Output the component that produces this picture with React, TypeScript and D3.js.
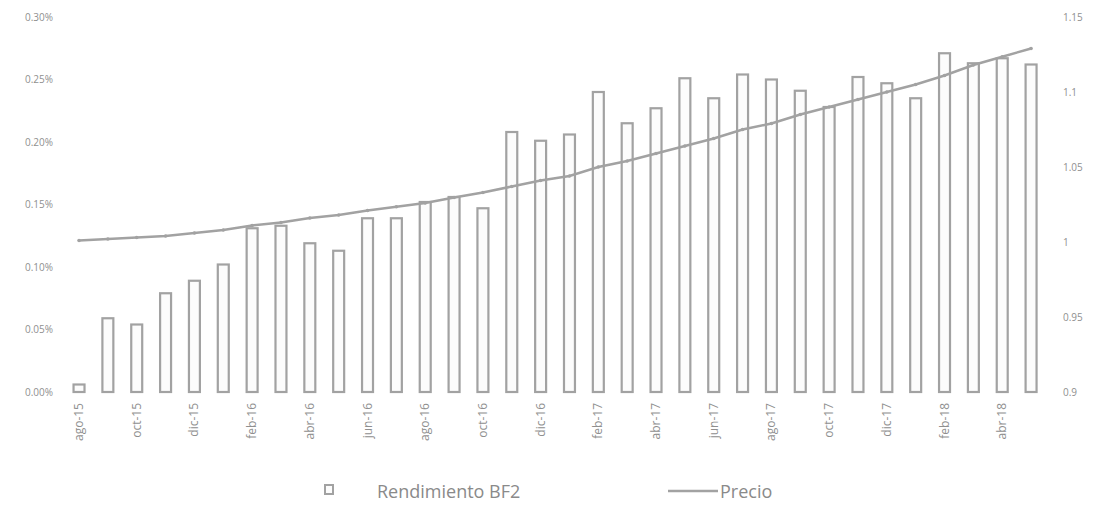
import React from "react";
import * as d3 from "d3";

const months: string[] = [
  "ago-15","sep-15","oct-15","nov-15","dic-15",
  "ene-16","feb-16","mar-16","abr-16","may-16","jun-16","jul-16","ago-16","sep-16","oct-16","nov-16","dic-16",
  "ene-17","feb-17","mar-17","abr-17","may-17","jun-17","jul-17","ago-17","sep-17","oct-17","nov-17","dic-17",
  "ene-18","feb-18","mar-18","abr-18","may-18",
];

// Rendimiento BF2 (percent)
const rendimiento: number[] = [
  0.006, 0.059, 0.054, 0.079, 0.089, 0.102, 0.131, 0.133, 0.119, 0.113, 0.139, 0.139,
  0.152, 0.156, 0.147, 0.208, 0.201, 0.206, 0.240, 0.215, 0.227, 0.251, 0.235,
  0.254, 0.250, 0.241, 0.228, 0.252, 0.247, 0.235, 0.271, 0.263, 0.267, 0.262,
];

// Precio
const precio: number[] = [
  1.001, 1.002, 1.003, 1.004, 1.006, 1.008, 1.011, 1.013, 1.016, 1.018, 1.021, 1.0235,
  1.026, 1.0297, 1.033, 1.037, 1.041, 1.044, 1.050, 1.054, 1.059, 1.064, 1.069,
  1.075, 1.079, 1.085, 1.090, 1.095, 1.100, 1.105, 1.111, 1.118, 1.1235, 1.129,
];

const leftTicks: number[] = [0, 0.05, 0.1, 0.15, 0.2, 0.25, 0.3];
const rightTicks: number[] = [0.9, 0.95, 1, 1.05, 1.1, 1.15];
const seriesNames: string[] = ["Rendimiento BF2", "Precio"];

const W = 1096;
const H = 511;
const TEXT = "#8f8f8f";
const BAR = "#a2a2a2";

export default function App() {
  const x = d3
    .scaleBand<string>()
    .domain(months)
    .range([64.6, 1045.5])
    .paddingInner(0.62)
    .paddingOuter(0.31);
  const yL = d3.scaleLinear().domain([0, 0.3]).range([392, 17]);
  const yR = d3.scaleLinear().domain([0.9, 1.15]).range([392, 17]);
  const cx = (m: string) => (x(m) as number) + x.bandwidth() / 2;

  const line = d3
    .line<number>()
    .x((_, i) => cx(months[i]))
    .y((d) => yR(d));

  const fmtL = (v: number) => v.toFixed(2) + "%";
  const fmtR = d3.format("");

  return (
    <svg
      width={W}
      height={H}
      style={{ position: "absolute", left: 0, top: 0, background: "#fff" }}
      fontFamily="'Open Sans', 'Liberation Sans', sans-serif"
    >
      <rect x={0} y={0} width={W} height={H} fill="#fff" />
      {/* left axis labels */}
      {leftTicks.map((t) => (
        <text key={"l" + t} x={53} y={yL(t) + 3.5} textAnchor="end" fontSize={10} fill={TEXT}>
          {fmtL(t)}
        </text>
      ))}
      {/* right axis labels */}
      {rightTicks.map((t) => (
        <text key={"r" + t} x={1063} y={yR(t) + 3.5} textAnchor="start" fontSize={10} fill={TEXT}>
          {fmtR(t)}
        </text>
      ))}
      {/* bars */}
      {rendimiento.map((v, i) => (
        <rect
          key={"b" + i}
          x={x(months[i])}
          y={yL(v)}
          width={x.bandwidth()}
          height={yL(0) - yL(v)}
          fill="#fcfcfc"
          stroke={BAR}
          strokeWidth={2.2}
        />
      ))}
      {/* price line */}
      <path d={line(precio) || ""} fill="none" stroke={BAR} strokeWidth={2.5} />
      {precio.map((v, i) => (
        <circle key={"p" + i} cx={cx(months[i])} cy={yR(v)} r={1.8} fill={BAR} />
      ))}
      {/* x labels */}
      {months.map((m, i) =>
        i % 2 === 0 ? (
          <text
            key={"x" + m}
            transform={`translate(${cx(m) + 4},${403}) rotate(-90)`}
            textAnchor="end"
            fontSize={12}
            fill={TEXT}
          >
            {m}
          </text>
        ) : null
      )}
      {/* legend */}
      <rect x={325} y={485} width={8} height={9} fill="#fcfcfc" stroke={BAR} strokeWidth={2} />
      <text x={377} y={498} fontSize={18} fill="#8a8a8a">
        {seriesNames[0]}
      </text>
      <line x1={668} x2={718} y1={491} y2={491} stroke={BAR} strokeWidth={2.5} />
      <text x={720} y={498} fontSize={18} fill="#8a8a8a">
        {seriesNames[1]}
      </text>
    </svg>
  );
}
